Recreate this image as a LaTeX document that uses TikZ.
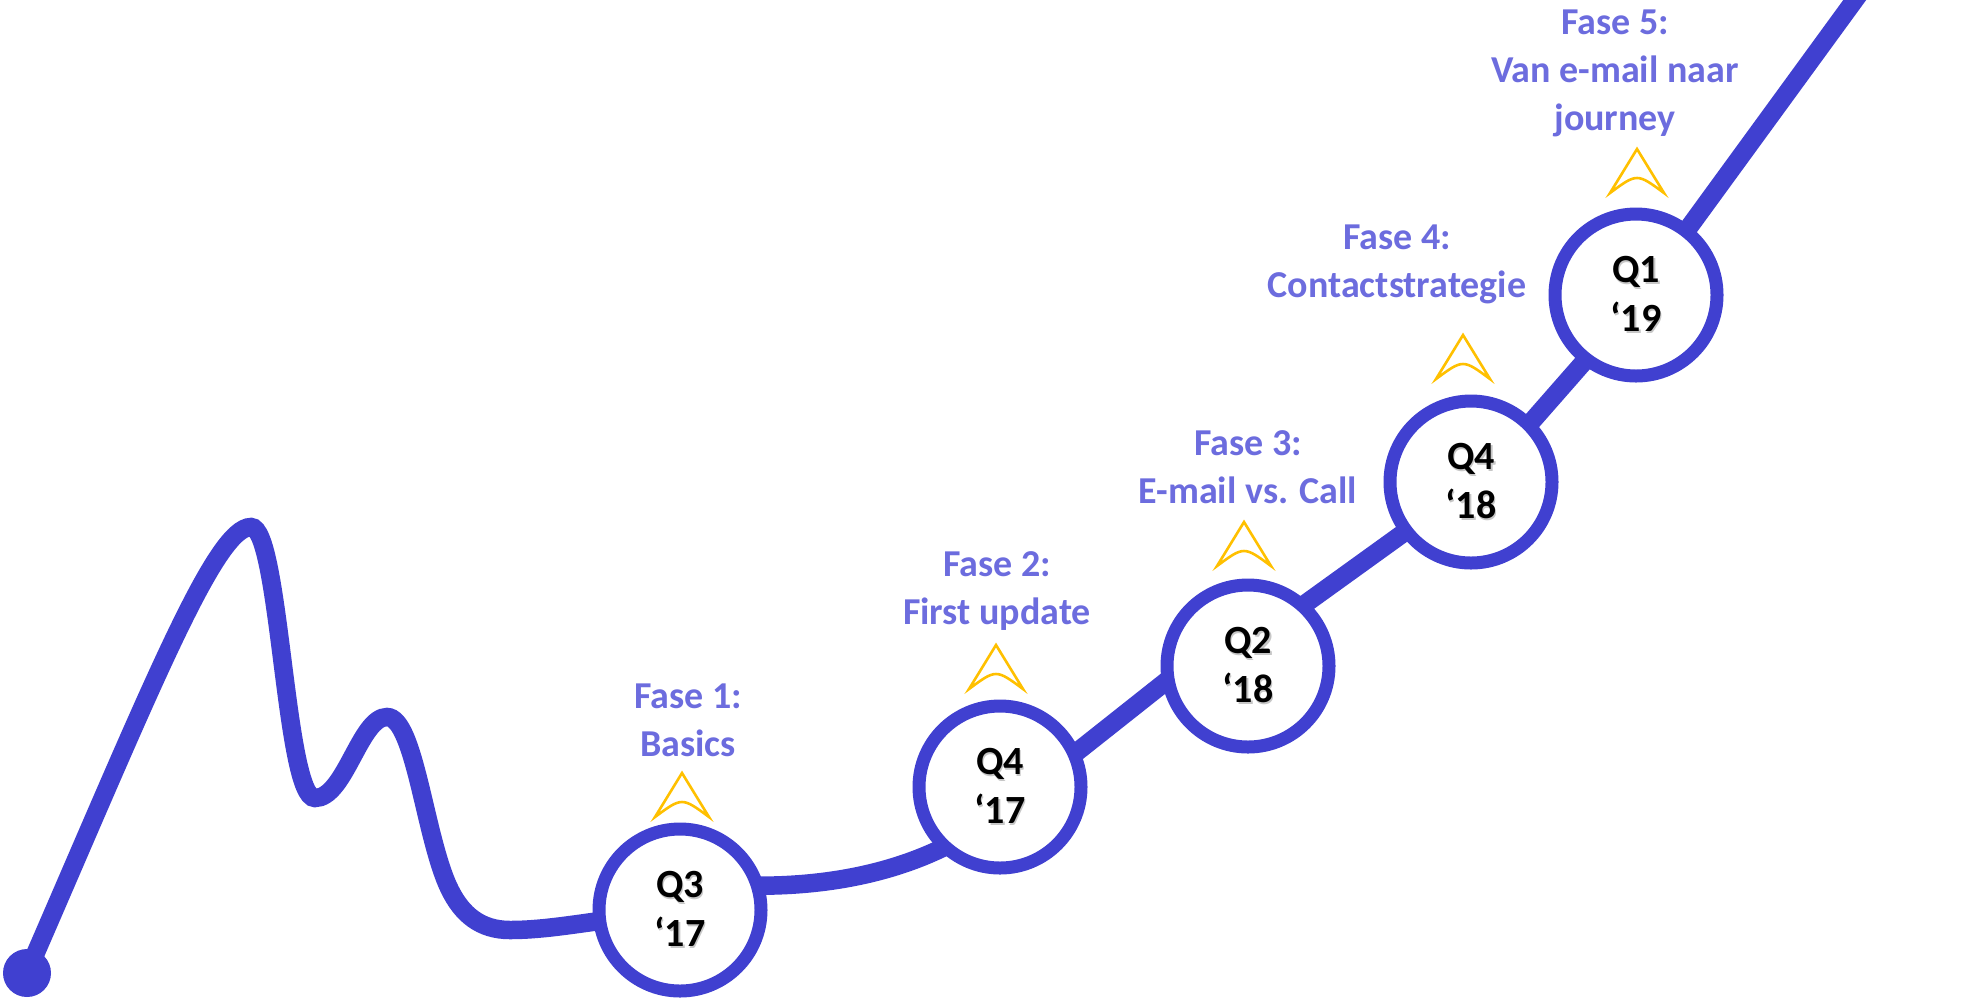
\documentclass[tikz,border=0pt]{standalone}
\usepackage{fontspec}
\setmainfont{Carlito}
\usetikzlibrary{backgrounds}
\definecolor{roadblue}{RGB}{64,64,208}
\definecolor{faseblue}{RGB}{108,108,222}
\definecolor{tipyellow}{RGB}{255,192,0}
\newcommand\qshadow[1]{\makebox[0pt][l]{\hspace{0.7pt}\raisebox{-0.7pt}{\textcolor{black!22}{#1}}}#1}
\tikzset{
  road/.style={line width=9.25pt, draw=roadblue},
  mile/.style={circle, draw=roadblue, line width=6.5pt, fill=white, minimum size=81pt,
    inner sep=0pt, align=center, font=\bfseries\fontsize{20}{24.5}\selectfont},
  fase/.style={anchor=north, inner sep=0pt, align=center, text=faseblue,
    font=\bfseries\fontsize{19}{24}\selectfont},
  tipmark/.style={draw=tipyellow, line width=1.3pt},
}
\begin{document}
\begin{tikzpicture}[x=0.5pt, y=-0.5pt]
\useasboundingbox (0,0) rectangle (1964,998);

\coordinate (cQ3Pt) at (680,910);
\coordinate (cQ4Pt) at (1000,787);
\coordinate (cQ2Pt) at (1248,666);
\coordinate (cQ4bPt) at (1471,482);
\coordinate (cQ1Pt) at (1636,295);
\coordinate (cTopPt) at (1862,-10);

\node[circle, fill=roadblue, minimum size=24pt, inner sep=0pt] (nStart) at (27,973) {};

\foreach \pp/\nm/\qq/\yy in
{   cQ3Pt/nQ3/Q3/17,
    cQ4Pt/nQ4/Q4/17,
    cQ2Pt/nQ2/Q2/18,
    cQ4bPt/nQ4b/Q4/18,
    cQ1Pt/nQ1/Q1/19
}
{
    \node[mile] (\nm) at (\pp) {\qshadow{\qq}\\\qshadow{‘\yy}};
};

% road behind the circles
\begin{scope}[on background layer]
\draw[road, shorten <=-10pt, shorten >=-8pt] (nStart) .. controls (150,690) and (215,527) .. (251,527)
    .. controls (280,527) and (285,798) .. (315,798)
    .. controls (345,798) and (360,717) .. (387,717)
    .. controls (415,717) and (425,840) .. (450,890)
    .. controls (462,914) and (480,930) .. (510,930)
    .. controls (540,930) and (570,925) .. (nQ3);
\draw[road, shorten <=-8pt, shorten >=-8pt] (nQ3.16) .. controls (820,887) and (892,875) .. (nQ4.226);
\draw[road, shorten <=-8pt, shorten >=-8pt] (nQ4.25) -- (nQ2.192);
\draw[road, shorten <=-8pt, shorten >=-8pt] (nQ2.47) -- (nQ4b.217);
\draw[road, shorten <=-8pt, shorten >=-8pt] (nQ4b.45) -- (nQ1.232);
\draw[road, shorten <=-8pt] (nQ1.52) -- (cTopPt);
\end{scope}

\foreach \xx/\yy in {682/773, 996/645, 1244/522, 1463/335, 1637/149}
{
    \draw[tipmark] (\xx,\yy) -- (\xx+27,\yy+44) .. controls (\xx,\yy+24) .. (\xx-27,\yy+44) -- cycle;
};

\foreach \nm/\xx/\yy/\la/\lb in
{   lFase1/688/683/Fase 1:/Basics,
    lFase2/997/551/Fase 2:/First update,
    lFase3/1248/430/Fase 3:/E-mail vs. Call,
    lFase4/1397/224/Fase 4:/Contactstrategie
}
{
    \node[fase] (\nm) at (\xx,\yy) {\la\\\lb};
};
\node[fase] (lFase5) at (1615,9) {Fase 5:\\Van e-mail naar\\journey};
\end{tikzpicture}
\end{document}
